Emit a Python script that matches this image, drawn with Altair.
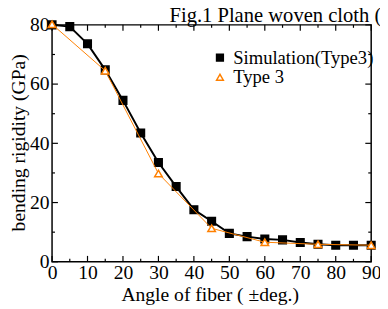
import altair as alt
import pandas as pd

# ---- data ----
series_names = ["Simulation(Type3)", "Type 3"]
angles_sim = [0, 5, 10, 15, 20, 25, 30, 35, 40, 45, 50, 55, 60, 65, 70, 75, 80, 85, 90]
sim_values = [80.0, 79.4, 73.6, 64.8, 54.5, 43.5, 33.5, 25.4, 17.6, 13.7, 9.6, 8.5, 7.7, 7.4, 6.5, 5.9, 5.6, 5.6, 5.6]
angles_t3 = [0, 15, 30, 45, 60, 75, 90]
t3_values = [80.2, 64.5, 29.8, 11.3, 6.6, 5.9, 5.6]
x_major = [0, 10, 20, 30, 40, 50, 60, 70, 80, 90]
x_minor = [5, 15, 25, 35, 45, 55, 65, 75, 85]
y_major = [0, 20, 40, 60, 80]
y_minor = [10, 30, 50, 70]
title_text = ["Fig.1 Plane woven cloth ("]
x_title = "Angle of fiber ( \u00b1deg.)"
y_title = "bending rigidity (GPa)"

FONT = "Liberation Serif"
ORANGE = "#FF8000"
W, H = 326, 242

sim_df = pd.DataFrame({"angle": angles_sim, "value": sim_values, "series": series_names[0]})
t3_df = pd.DataFrame({"angle": angles_t3, "value": t3_values, "series": series_names[1]})

x_scale = alt.Scale(domain=[0, 90], nice=False, zero=False)
y_scale = alt.Scale(domain=[0, 80], nice=False)

x_axis = alt.Axis(values=x_major, ticks=False, domain=False, grid=False, labelFlush=False,
                  labelOverlap=False, labelFont=FONT, labelFontSize=20, labelColor="black",
                  labelPadding=1, title=x_title, titleFont=FONT, titleFontSize=20,
                  titleFontWeight="normal", titleColor="black", titleX=161, titleY=40,
                  titleBaseline="alphabetic")
y_axis = alt.Axis(values=y_major, ticks=False, domain=False, grid=False, labelFlush=False,
                  labelOverlap=False, labelFont=FONT, labelFontSize=20, labelColor="black",
                  labelPadding=3, title=y_title, titleFont=FONT, titleFontSize=20,
                  titleFontWeight="normal", titleColor="black", titleX=-28, titleY=120,
                  titleAngle=270, titleBaseline="alphabetic", titleAlign="center")


def X(field):
    return alt.X(f"{field}:Q", scale=x_scale, axis=x_axis)


def Y(field):
    return alt.Y(f"{field}:Q", scale=y_scale, axis=y_axis)


stroke_scale = alt.Scale(domain=series_names, range=["black", ORANGE])
fill_scale = alt.Scale(domain=series_names, range=["black", "white"])
shape_scale = alt.Scale(domain=series_names, range=["square", "triangle-up"])
legend = alt.Legend(title=None, orient="none", legendX=162, legendY=24, labelFont=FONT,
                    labelFontSize=19, labelColor="black", symbolSize=48, symbolStrokeWidth=1.5,
                    labelOffset=4, rowPadding=0, padding=0)


def points(df):
    return alt.Chart(df).mark_point(size=60, strokeWidth=1.5, opacity=1).encode(
        x=X("angle"), y=Y("value"),
        stroke=alt.Stroke("series:N", scale=stroke_scale, legend=legend),
        fill=alt.Fill("series:N", scale=fill_scale, legend=legend),
        shape=alt.Shape("series:N", scale=shape_scale, legend=legend),
    )


sim_line = alt.Chart(sim_df).mark_line(color="black", strokeWidth=2).encode(x=X("angle"), y=Y("value"))
t3_line = alt.Chart(t3_df).mark_line(color=ORANGE, strokeWidth=1).encode(x=X("angle"), y=Y("value"))

# ---- inward ticks on all four sides ----
xmaj = pd.DataFrame({"t": x_major})
xmin = pd.DataFrame({"t": x_minor})
ymaj = pd.DataFrame({"t": y_major})
ymin = pd.DataFrame({"t": y_minor})
tick_style = dict(color="black", strokeWidth=1.2)
MAJ, MIN = 6, 3
ticks = [
    alt.Chart(xmaj).mark_rule(**tick_style).encode(x=X("t"), y=alt.value(H), y2=alt.value(H - MAJ)),
    alt.Chart(xmin).mark_rule(**tick_style).encode(x=X("t"), y=alt.value(H), y2=alt.value(H - MIN)),
    alt.Chart(xmaj).mark_rule(**tick_style).encode(x=X("t"), y=alt.value(0), y2=alt.value(MAJ)),
    alt.Chart(xmin).mark_rule(**tick_style).encode(x=X("t"), y=alt.value(0), y2=alt.value(MIN)),
    alt.Chart(ymaj).mark_rule(**tick_style).encode(y=Y("t"), x=alt.value(0), x2=alt.value(MAJ)),
    alt.Chart(ymin).mark_rule(**tick_style).encode(y=Y("t"), x=alt.value(0), x2=alt.value(MIN)),
    alt.Chart(ymaj).mark_rule(**tick_style).encode(y=Y("t"), x=alt.value(W), x2=alt.value(W - MAJ)),
    alt.Chart(ymin).mark_rule(**tick_style).encode(y=Y("t"), x=alt.value(W), x2=alt.value(W - MIN)),
]

title_layer = alt.Chart(pd.DataFrame({"t": title_text})).mark_text(
    align="left", baseline="alphabetic", font=FONT, fontSize=21, color="black"
).encode(x=alt.value(120), y=alt.value(-3), text="t:N")

chart = alt.layer(
    *ticks, sim_line, points(sim_df), t3_line, points(t3_df), title_layer
).properties(
    width=W, height=H,
    padding={"left": 45, "top": 14, "right": 9, "bottom": 45},
    autosize=alt.AutoSizeParams(type="none"),
    background="white",
).configure_view(stroke="black", strokeWidth=1.5)

chart.save("out.html", embed_options={"renderer": "svg", "actions": False})
